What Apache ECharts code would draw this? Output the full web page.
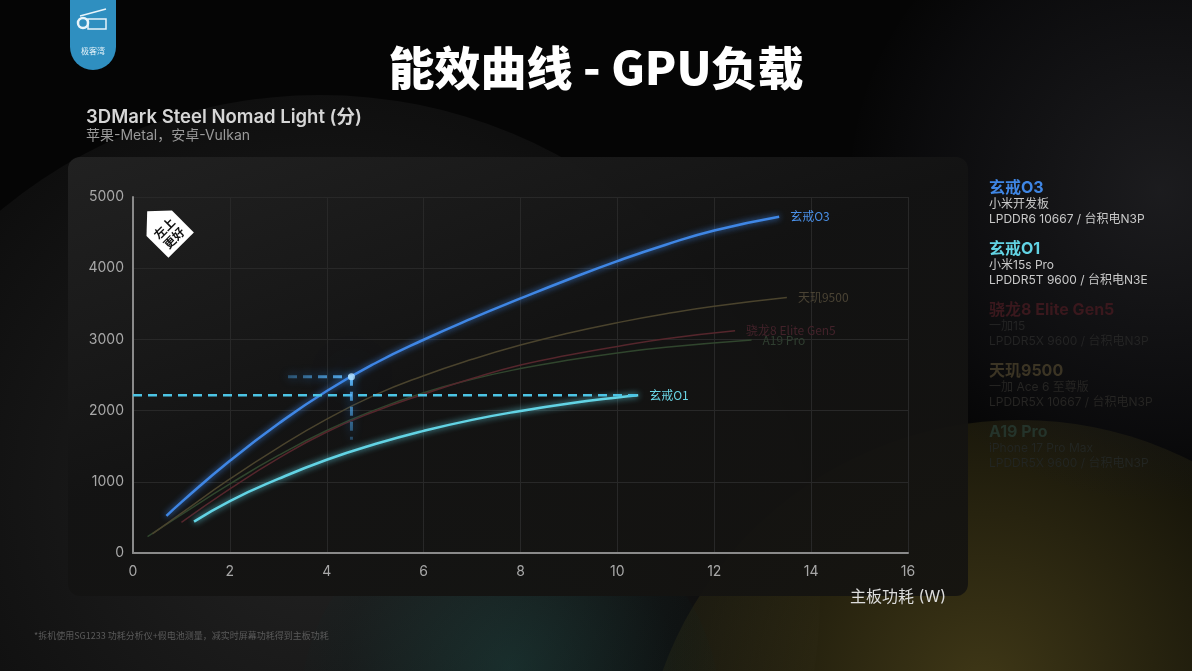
<!DOCTYPE html>
<html><head><meta charset="utf-8">
<script src="https://cdn.jsdelivr.net/npm/echarts@6/dist/echarts.min.js"></script>
<style>
html,body{margin:0;padding:0;width:1192px;height:671px;overflow:hidden;background:#050505;}
.bg{position:absolute;border-radius:50%;}
#chart{position:absolute;left:0;top:0;width:1192px;height:671px;}
</style></head>
<body>
<div class="bg" style="left:-180px;top:95px;width:1000px;height:1000px;background:radial-gradient(circle at 50% 40%, rgba(60,60,60,0.55), rgba(30,30,30,0.35) 55%, rgba(10,10,10,0) 72%);"></div>
<div class="bg" style="left:640px;top:420px;width:760px;height:760px;background:radial-gradient(circle at 45% 35%, rgba(120,105,40,0.5), rgba(60,55,20,0.32) 45%, rgba(10,10,5,0) 70%);"></div>
<div class="bg" style="left:850px;top:-120px;width:620px;height:620px;background:radial-gradient(circle at 50% 50%, rgba(50,50,55,0.5), rgba(25,25,30,0.3) 55%, rgba(0,0,0,0) 72%);"></div>
<div class="bg" style="left:300px;top:500px;width:420px;height:420px;background:radial-gradient(circle at 50% 40%, rgba(30,90,85,0.35), rgba(10,40,40,0.15) 50%, rgba(0,0,0,0) 70%);"></div>
<div style="position:absolute;left:68px;top:157px;width:900px;height:439px;border-radius:12px;background:linear-gradient(160deg, rgba(34,34,34,0.95), rgba(19,19,19,0.96) 45%, rgba(20,19,16,0.93));"></div>
<div id="chart"></div>
<script>
// ---- data ----
const xTicks = [0, 2, 4, 6, 8, 10, 12, 14, 16];
const yTicks = [0, 1000, 2000, 3000, 4000, 5000];
const seriesNames = ['玄戒O3', '玄戒O1', '骁龙8 Elite Gen5', '天玑9500', 'A19 Pro'];
const o3 = [[0.69,520],[1,715],[2,1295],[3,1815],[4,2275],[5,2665],[6,2995],[7,3295],[8,3575],[9,3845],[10,4100],[11,4330],[12,4530],[13.34,4723]];
const o1 = [[1.26,440],[2,730],[3,1040],[4,1310],[5,1530],[6,1715],[7,1870],[8,1995],[9,2100],[10,2185],[10.43,2215]];
const sd8 = [[1.0,430],[2,900],[3,1330],[4,1700],[5,1990],[6,2230],[7,2450],[8,2640],[9,2780],[10,2900],[11,3010],[12.43,3122]];
const d9500 = [[0.4,270],[1,560],[2,1040],[3,1480],[4,1880],[5,2220],[6,2490],[7,2720],[8,2920],[9,3090],[10,3235],[11,3360],[12,3465],[13.5,3587]];
const a19 = [[0.3,230],[1,540],[2,970],[3,1370],[4,1720],[5,2010],[6,2250],[7,2440],[8,2590],[9,2710],[10,2810],[11,2890],[12.77,2992]];
const o1Level = [[0,2215],[10.43,2215]];
const crossH = [[3.2,2476],[4.51,2476]];
const crossV = [[4.51,2476],[4.51,1590]];
const crossPt = [[4.51,2476]];
const legendInfo = [
  ['玄戒O3','小米开发板','LPDDR6 10667 / 台积电N3P'],
  ['玄戒O1','小米15s Pro','LPDDR5T 9600 / 台积电N3E'],
  ['骁龙8 Elite Gen5','一加15','LPDDR5X 9600 / 台积电N3P'],
  ['天玑9500','一加 Ace 6 至尊版','LPDDR5X 10667 / 台积电N3P'],
  ['A19 Pro','iPhone 17 Pro Max','LPDDR5X 9600 / 台积电N3P']
];
// ---- styles ----
const colors = ['#3f86e4','#62d3e4','#55262c','#4a432d','#30452d'];
const titleColors = ['#3f86e4','#62d3e4','#3a181d','#3b3424','#24332a'];
const subColors = ['#c9c9c9','#c9c9c9','#242424','#262523','#222522'];
const labelColors = ['#4a90e8','#6ad6e6','#43222a','#4a4334','#2f3e30'];
const cn = '"Noto Sans CJK SC","Noto Sans",sans-serif';
const lat = 'Inter,"Noto Sans CJK SC",sans-serif';
const num = 'Inter, Roboto, sans-serif';

const chart = echarts.init(document.getElementById('chart'), null, {renderer:'canvas'});

function lineSeries(i, data, width, glow){
  return {
    name: seriesNames[i], type:'line', data:data, smooth:0.5, showSymbol:false, z: 10 - i,
    lineStyle:{color:colors[i], width:width, shadowBlur: glow?6:0, shadowColor: colors[i]},
    endLabel:{show:true, formatter: seriesNames[i], color: labelColors[i], fontSize:12, fontFamily:cn, offset:[3,0]},
    emphasis:{disabled:true}
  };
}

const graphics = [];
// logo
graphics.push({type:'rect', shape:{x:70,y:-20,width:46,height:90,r:[0,0,23,23]}, style:{fill:'#2f8fc0'}, z:5});
graphics.push({type:'circle', shape:{cx:83,cy:23,r:5}, style:{fill:'none', stroke:'#e8f4fa', lineWidth:2.5}, z:6});
graphics.push({type:'rect', shape:{x:88,y:19,width:18,height:10}, style:{fill:'none', stroke:'#e8f4fa', lineWidth:1.5}, z:6});
graphics.push({type:'line', shape:{x1:80,y1:16,x2:106,y2:9}, style:{stroke:'#e8f4fa', lineWidth:1.5}, z:6});
graphics.push({type:'text', x:93, y:51, style:{text:'极客湾', fill:'#e8f4fa', font:'8px '+cn, align:'center', verticalAlign:'middle'}, z:6});
// title
graphics.push({type:'text', x:596, y:68, style:{text:'能效曲线 - GPU负载', fill:'#ffffff', font:'900 46px '+cn, align:'center', verticalAlign:'middle'}});
graphics.push({type:'text', x:86, y:117, style:{text:'3DMark Steel Nomad Light (分)', fill:'#d6d6d6', font:'600 18.5px '+lat, verticalAlign:'middle'}});
graphics.push({type:'text', x:86, y:136, style:{text:'苹果-Metal，安卓-Vulkan', fill:'#9a9a9a', font:'14px '+lat, verticalAlign:'middle'}});
// axis name
graphics.push({type:'text', x:946, y:597, style:{text:'主板功耗 (W)', fill:'#dcdcdc', font:'16px '+lat, align:'right', verticalAlign:'middle'}, z:20});
// footnote
graphics.push({type:'text', x:34, y:636, style:{text:'*拆机使用SG1233 功耗分析仪+假电池测量，减实时屏幕功耗得到主板功耗', fill:'#5a5a5a', font:'9px '+cn, verticalAlign:'middle'}});
// badge
graphics.push({type:'group', x:167, y:231, rotation:Math.PI/4, z:20, children:[
  {type:'polygon', shape:{points:[[0,-28],[18,-11],[18,20],[-18,20],[-18,-11]]}, style:{fill:'#ffffff'}},
  {type:'text', x:0, y:-4, style:{text:'左上', fill:'#111', font:'bold 12px '+cn, align:'center', verticalAlign:'middle'}},
  {type:'text', x:0, y:10, style:{text:'更好', fill:'#111', font:'bold 12px '+cn, align:'center', verticalAlign:'middle'}}
]});
// legend
legendInfo.forEach((it, i) => {
  const y0 = 188 + i*61;
  graphics.push({type:'text', x:989, y:y0, style:{text:it[0], fill:titleColors[i], font:'bold 16px '+lat, verticalAlign:'middle'}});
  graphics.push({type:'text', x:989, y:y0+16, style:{text:it[1], fill:subColors[i], font:'12px '+lat, verticalAlign:'middle'}});
  graphics.push({type:'text', x:989, y:y0+31, style:{text:it[2], fill:subColors[i], font:'12px '+lat, verticalAlign:'middle'}});
});

chart.setOption({
  backgroundColor:'transparent',
  animation:false,
  grid:{left:133, right:284, top:197, bottom:118},
  xAxis:{type:'value', min:xTicks[0], max:xTicks[xTicks.length-1], interval:2,
    axisLine:{lineStyle:{color:'#8a8a8a', width:2}}, axisTick:{show:false},
    axisLabel:{color:'#a8a8a8', fontSize:14, fontFamily:num, margin:12},
    splitLine:{show:true, lineStyle:{color:'#282828', width:1}}},
  yAxis:{type:'value', min:yTicks[0], max:yTicks[yTicks.length-1], interval:1000,
    axisLine:{show:true, lineStyle:{color:'#8a8a8a', width:2}}, axisTick:{show:false},
    axisLabel:{color:'#a8a8a8', fontSize:14, fontFamily:num, margin:9, formatter: v => String(v)},
    splitLine:{show:true, lineStyle:{color:'#282828', width:1}}},
  graphic: graphics,
  series:[
    lineSeries(4, a19, 1.5, false),
    lineSeries(2, sd8, 1.5, false),
    lineSeries(3, d9500, 1.5, false),
    {name:'o1level', type:'line', data:o1Level, showSymbol:false, z:11,
      lineStyle:{color:'#4cc4e4', width:2.5, type:[9,6]}, emphasis:{disabled:true}},
    {name:'crossH', type:'line', data:crossH, showSymbol:false, z:11,
      lineStyle:{width:3, type:[9,6], color:new echarts.graphic.LinearGradient(0,0,1,0,[{offset:0,color:'rgba(74,168,240,0.35)'},{offset:1,color:'#5ab4f6'}]), shadowBlur:10, shadowColor:'#2a8cf0'}, emphasis:{disabled:true}},
    {name:'crossV', type:'line', data:crossV, showSymbol:false, z:11,
      lineStyle:{width:3, type:[9,6], color:new echarts.graphic.LinearGradient(0,0,0,1,[{offset:0,color:'#5ab4f6'},{offset:1,color:'rgba(74,168,240,0.3)'}]), shadowBlur:10, shadowColor:'#2a8cf0'}, emphasis:{disabled:true}},
    lineSeries(1, o1, 2.5, true),
    lineSeries(0, o3, 2.5, true),
    {name:'cross', type:'scatter', data:crossPt, symbolSize:7, z:13,
      itemStyle:{color:'#b8e4ff', shadowBlur:40, shadowColor:'#3a9cff'}, emphasis:{disabled:true}}
  ]
});
</script>
</body></html>
